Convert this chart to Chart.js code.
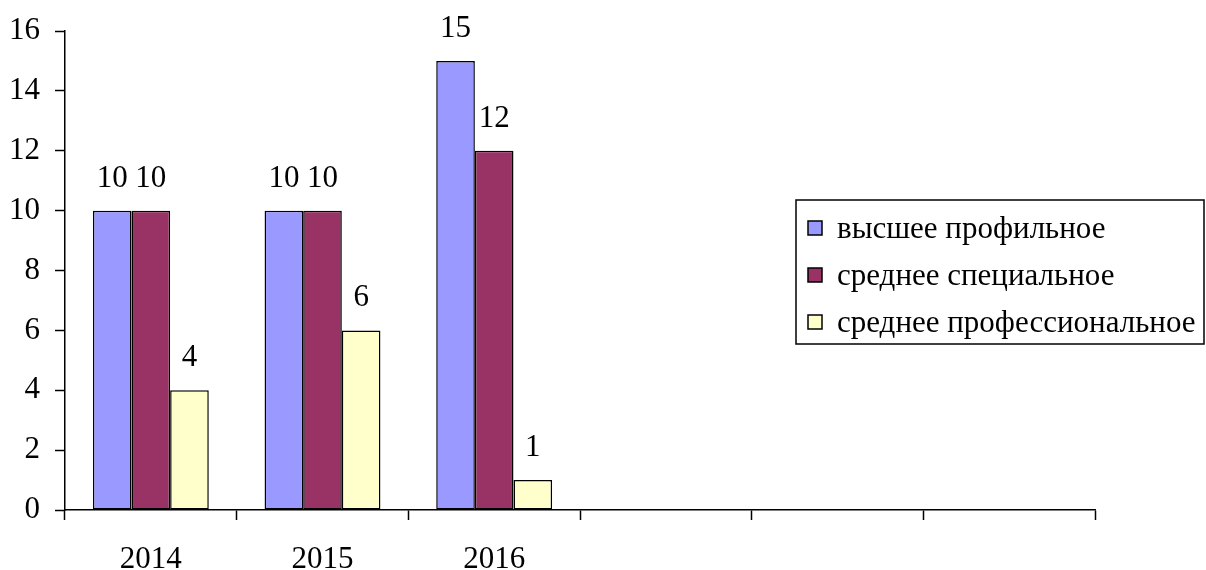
<!DOCTYPE html>
<html>
<head>
<meta charset="utf-8">
<script src="https://cdn.jsdelivr.net/npm/chart.js@4"></script>
<style>
  html, body { margin: 0; padding: 0; background: #fff; }
  #wrap { width: 1206px; height: 570px; }
</style>
</head>
<body>
<div id="wrap"><canvas id="eduChart"></canvas></div>
<script>
// годы (три последних столбца пустые)
const years = ['2014', '2015', '2016', '', '', ''];
const seriesNames = ['высшее профильное', 'среднее специальное', 'среднее профессиональное'];
const higherProfile = [10, 10, 15, null, null, null];
const secondarySpecial = [10, 10, 12, null, null, null];
const secondaryProf = [4, 6, 1, null, null, null];
const seriesColors = ['#9999ff', '#993366', '#ffffcc'];
const yTicks = [0, 2, 4, 6, 8, 10, 12, 14, 16];

const FONT = '"Liberation Serif", "Times New Roman", serif';
const FSIZE = 31;

// подписи значений над столбцами
const valueLabels = {
    id: 'valueLabels',
    afterDatasetsDraw(chart) {
        const ctx = chart.ctx;
        ctx.save();
        ctx.font = FSIZE + 'px ' + FONT;
        ctx.fillStyle = '#000';
        ctx.textAlign = 'center';
        ctx.textBaseline = 'alphabetic';
        chart.data.datasets.forEach((ds, i) => {
            chart.getDatasetMeta(i).data.forEach((bar, j) => {
                const v = ds.data[j];
                if (v == null) return;
                ctx.fillText(String(v), bar.x, bar.y - 24);
            });
        });
        ctx.restore();
    }
};

// легенда в рамке поверх области построения
const boxedLegend = {
    id: 'boxedLegend',
    afterDraw(chart) {
        const ctx = chart.ctx;
        const x0 = 796, y0 = 200, w = 408, h = 144;
        ctx.save();
        ctx.fillStyle = '#fff';
        ctx.fillRect(x0, y0, w, h);
        ctx.strokeStyle = '#000';
        ctx.lineWidth = 1.5;
        ctx.strokeRect(x0, y0, w, h);
        ctx.font = FSIZE + 'px ' + FONT;
        ctx.textBaseline = 'alphabetic';
        chart.data.datasets.forEach((ds, i) => {
            const cy = 228 + i * 47;
            ctx.fillStyle = ds.backgroundColor;
            ctx.fillRect(808, cy - 7, 14, 14);
            ctx.lineWidth = 1.5;
            ctx.strokeRect(808, cy - 7, 14, 14);
            ctx.fillStyle = '#000';
            ctx.fillText(ds.label, 837, cy + 10);
        });
        ctx.restore();
    }
};

new Chart(document.getElementById('eduChart'), {
    type: 'bar',
    data: {
        labels: years,
        datasets: seriesNames.map((name, i) => ({
            label: name,
            data: [higherProfile, secondarySpecial, secondaryProf][i],
            backgroundColor: seriesColors[i],
            borderColor: '#000',
            borderWidth: 1.5,
            borderSkipped: false,
            categoryPercentage: 0.675,
            barPercentage: 1
        }))
    },
    options: {
        responsive: true,
        maintainAspectRatio: false,
        animation: false,
        layout: { padding: { top: 31, right: 111, left: 0, bottom: 0 } },
        plugins: {
            legend: { display: false },
            tooltip: { enabled: false }
        },
        scales: {
            y: {
                min: 0,
                max: 16,
                afterBuildTicks: (scale) => { scale.ticks = yTicks.map(v => ({ value: v })); },
                afterFit: (scale) => {
                    scale.width = 65;
                    scale.paddingTop = 0;
                    scale.paddingBottom = 0;
                },
                ticks: {
                    color: '#000',
                    font: { family: FONT, size: FSIZE },
                    padding: 15
                },
                grid: { drawOnChartArea: false, tickLength: 10, color: '#000', tickWidth: 1.5 },
                border: { color: '#000', width: 1.5 }
            },
            x: {
                afterFit: (scale) => {
                    scale.height = 60;
                    scale.paddingLeft = 0;
                    scale.paddingRight = 0;
                },
                ticks: {
                    color: '#000',
                    font: { family: FONT, size: FSIZE },
                    padding: 21,
                    maxRotation: 0,
                    autoSkip: false
                },
                grid: { drawOnChartArea: false, offset: true, tickLength: 10, color: '#000', tickWidth: 1.5 },
                border: { color: '#000', width: 1.5 }
            }
        }
    },
    plugins: [valueLabels, boxedLegend]
});
</script>
</body>
</html>
